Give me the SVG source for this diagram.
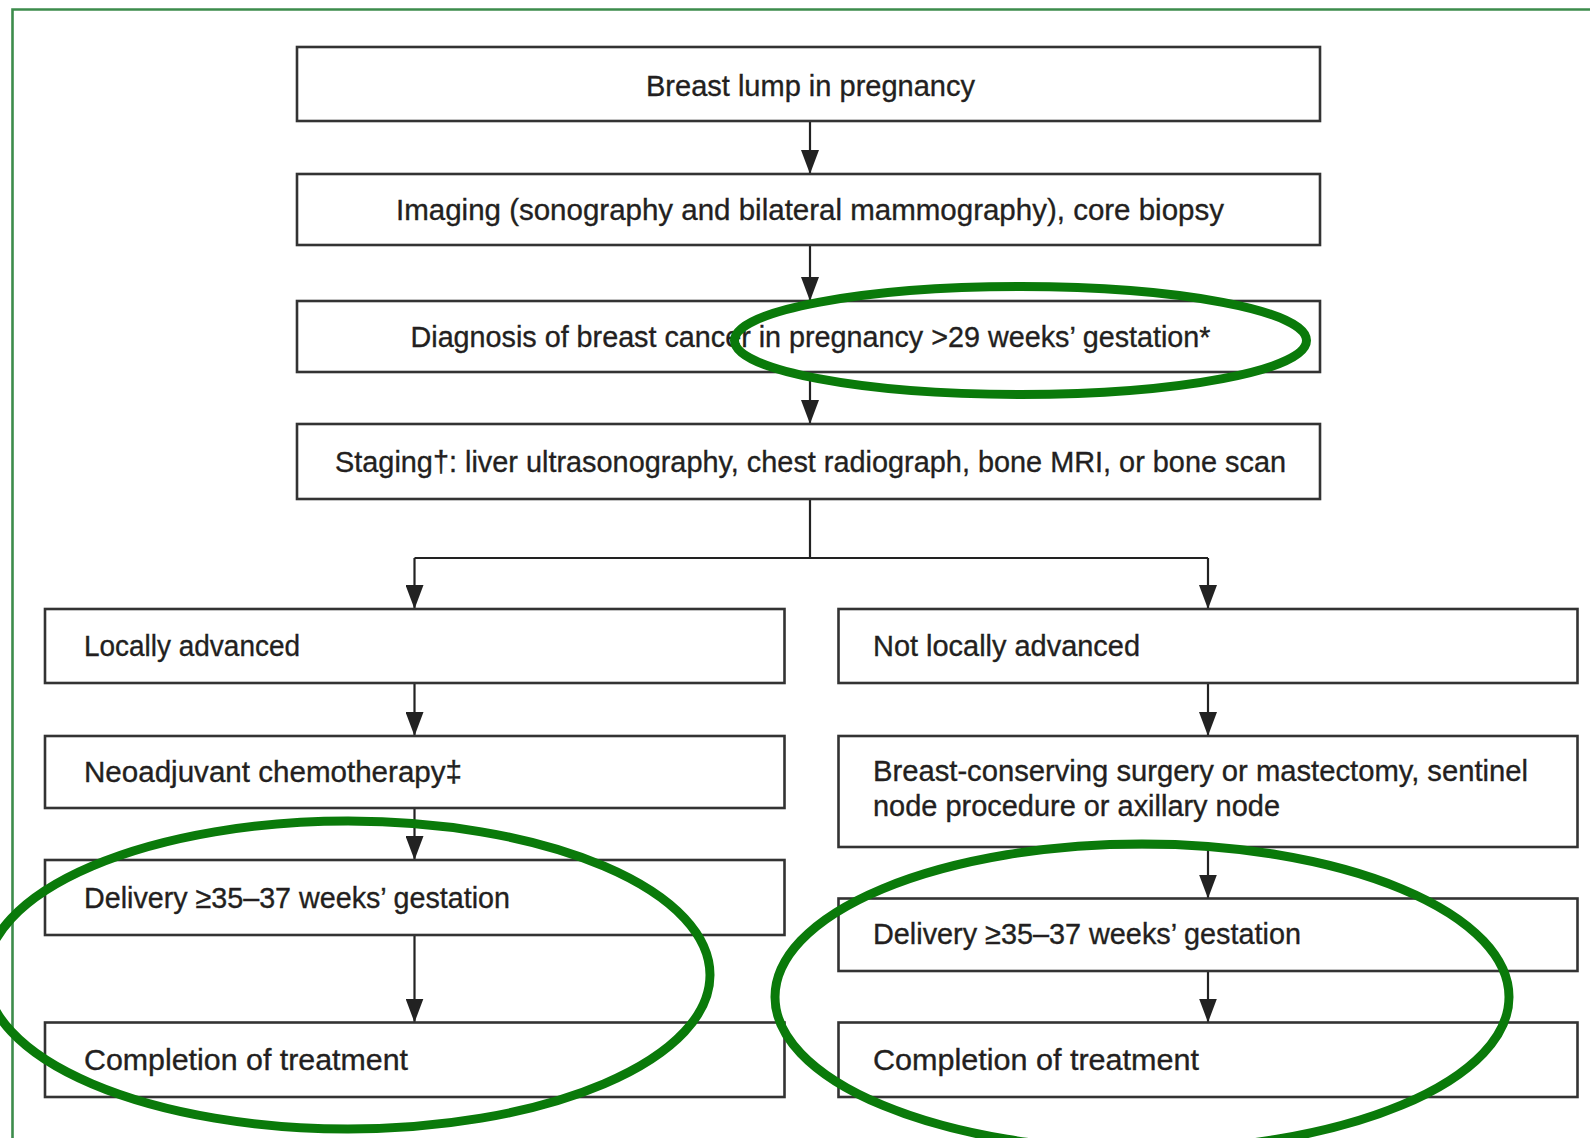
<svg xmlns="http://www.w3.org/2000/svg" width="1590" height="1138" viewBox="0 0 1590 1138">
<defs>
<style>
.box{fill:#fff;stroke:#333;stroke-width:2.6}
.t{font-family:"Liberation Sans",Arial,sans-serif;font-size:30px;fill:#231f20;stroke:#231f20;stroke-width:0.35}
.c{text-anchor:middle}
.edge{fill:none;stroke:#222;stroke-width:2.2}
.ring{fill:none;stroke:#0a7a0a;stroke-width:9}
</style>
<marker id="ah" viewBox="0 0 24 18" refX="24" refY="9" markerWidth="24" markerHeight="18" markerUnits="userSpaceOnUse" orient="auto">
<path d="M0,0 L24,9 L0,18 Z" fill="#222"/>
</marker>
</defs>
<rect width="1590" height="1138" fill="#fff"/>
<path d="M12.5,1138 V9.5 H1590" fill="none" stroke="#3d8c4c" stroke-width="2.6"/>

<g id="connectors">
<line class="edge" x1="810" y1="121" x2="810" y2="174" marker-end="url(#ah)"/>
<line class="edge" x1="810" y1="245" x2="810" y2="301" marker-end="url(#ah)"/>
<line class="edge" x1="810" y1="372" x2="810" y2="424" marker-end="url(#ah)"/>
<path class="edge" d="M810,499 V558 H1208"/>
<path class="edge" d="M810,558 H414.5"/>
<line class="edge" x1="414.5" y1="558" x2="414.5" y2="609" marker-end="url(#ah)"/>
<line class="edge" x1="1208" y1="558" x2="1208" y2="609" marker-end="url(#ah)"/>
<line class="edge" x1="414.5" y1="683" x2="414.5" y2="736" marker-end="url(#ah)"/>
<line class="edge" x1="414.5" y1="808" x2="414.5" y2="860" marker-end="url(#ah)"/>
<line class="edge" x1="414.5" y1="935" x2="414.5" y2="1022.5" marker-end="url(#ah)"/>
<line class="edge" x1="1208" y1="683" x2="1208" y2="736" marker-end="url(#ah)"/>
<line class="edge" x1="1208" y1="847" x2="1208" y2="898.5" marker-end="url(#ah)"/>
<line class="edge" x1="1208" y1="971" x2="1208" y2="1022.5" marker-end="url(#ah)"/>
</g>

<g id="n1"><rect class="box" x="297" y="47" width="1023" height="74"/>
<text class="t c" x="810.5" y="96" textLength="329" lengthAdjust="spacingAndGlyphs">Breast lump in pregnancy</text></g>
<g id="n2"><rect class="box" x="297" y="174" width="1023" height="71"/>
<text class="t c" x="810" y="220" textLength="828" lengthAdjust="spacingAndGlyphs">Imaging (sonography and bilateral mammography), core biopsy</text></g>
<g id="n3"><rect class="box" x="297" y="301" width="1023" height="71"/>
<text class="t c" x="810.5" y="347" textLength="800" lengthAdjust="spacingAndGlyphs">Diagnosis of breast cancer in pregnancy &gt;29 weeks’ gestation*</text></g>
<g id="n4"><rect class="box" x="297" y="424" width="1023" height="75"/>
<text class="t c" x="810.5" y="472" textLength="951" lengthAdjust="spacingAndGlyphs">Staging†: liver ultrasonography, chest radiograph, bone MRI, or bone scan</text></g>

<g id="n5"><rect class="box" x="45" y="609" width="739.5" height="74"/>
<text class="t" x="84" y="656" textLength="216" lengthAdjust="spacingAndGlyphs">Locally advanced</text></g>
<g id="n6"><rect class="box" x="45" y="736" width="739.5" height="72"/>
<text class="t" x="84" y="782" textLength="378" lengthAdjust="spacingAndGlyphs">Neoadjuvant chemotherapy‡</text></g>
<g id="n7"><rect class="box" x="45" y="860" width="739.5" height="75"/>
<text class="t" x="84" y="908" textLength="426" lengthAdjust="spacingAndGlyphs">Delivery ≥35–37 weeks’ gestation</text></g>
<g id="n8"><rect class="box" x="45" y="1022.5" width="739.5" height="74.5"/>
<text class="t" x="84" y="1070" textLength="324" lengthAdjust="spacingAndGlyphs">Completion of treatment</text></g>

<g id="n9"><rect class="box" x="838.5" y="609" width="739" height="74"/>
<text class="t" x="873" y="656" textLength="267" lengthAdjust="spacingAndGlyphs">Not locally advanced</text></g>
<g id="n10"><rect class="box" x="838.5" y="736" width="739" height="111"/>
<text class="t" x="873" y="781" textLength="655" lengthAdjust="spacingAndGlyphs">Breast-conserving surgery or mastectomy, sentinel</text>
<text class="t" x="873" y="816" textLength="407" lengthAdjust="spacingAndGlyphs">node procedure or axillary node</text></g>
<g id="n11"><rect class="box" x="838.5" y="898.5" width="739" height="72.5"/>
<text class="t" x="873" y="944" textLength="428" lengthAdjust="spacingAndGlyphs">Delivery ≥35–37 weeks’ gestation</text></g>
<g id="n12"><rect class="box" x="838.5" y="1022.5" width="739" height="74.5"/>
<text class="t" x="873" y="1070" textLength="326" lengthAdjust="spacingAndGlyphs">Completion of treatment</text></g>

<g id="highlights">
<ellipse class="ring" cx="1020.5" cy="340.5" rx="286" ry="54"/>
<ellipse class="ring" cx="348" cy="975" rx="362" ry="154"/>
<ellipse class="ring" cx="1142" cy="997" rx="367" ry="153"/>
</g>
</svg>
